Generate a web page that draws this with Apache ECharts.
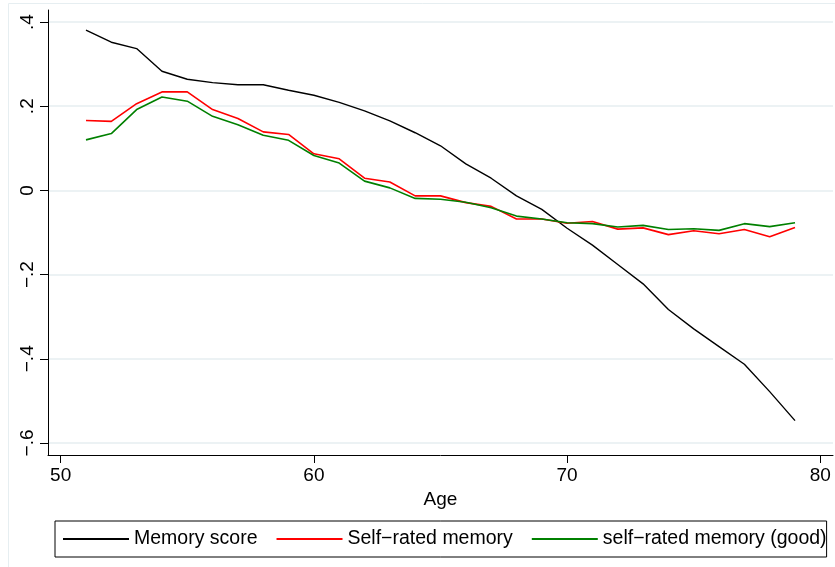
<!DOCTYPE html>
<html>
<head>
    <meta http-equiv="Content-Type" content="text/html; charset=UTF-8">
    <title>Memory by age</title>
    <script src="https://cdn.jsdelivr.net/npm/echarts@6/dist/echarts.min.js"></script>
</head>
<body style="margin:0; background:#fff;">
<div id="main" style="width:835px; height:567px;"></div>
<script type="text/javascript">
    // ages on the x axis
    var ages = [51, 52, 53, 54, 55, 56, 57, 58, 59, 60, 61, 62, 63, 64, 65,
                66, 67, 68, 69, 70, 71, 72, 73, 74, 75, 76, 77, 78, 79];
    // series values
    var memoryScore = [0.381, 0.352, 0.337, 0.283, 0.264, 0.256, 0.251, 0.251, 0.238, 0.226,
                       0.209, 0.189, 0.165, 0.137, 0.106, 0.063, 0.029, -0.013, -0.045, -0.090,
                       -0.130, -0.176, -0.222, -0.283, -0.329, -0.371, -0.413, -0.478, -0.547];
    var selfRated = [0.166, 0.164, 0.206, 0.234, 0.234, 0.192, 0.171, 0.139, 0.133, 0.087,
                     0.075, 0.029, 0.020, -0.013, -0.013, -0.029, -0.038, -0.068, -0.068, -0.078,
                     -0.074, -0.092, -0.089, -0.105, -0.096, -0.103, -0.093, -0.110, -0.088];
    var selfRatedGood = [0.120, 0.135, 0.192, 0.222, 0.212, 0.176, 0.156, 0.131, 0.119, 0.083,
                         0.065, 0.022, 0.006, -0.019, -0.021, -0.028, -0.041, -0.061, -0.068, -0.077,
                         -0.079, -0.087, -0.083, -0.093, -0.091, -0.095, -0.079, -0.086, -0.077];
    // tick labels
    var xTicks = [50, 60, 70, 80];
    var yTicks = [-0.6, -0.4, -0.2, 0, 0.2, 0.4];
    var yTickLabels = ['\u2212.6', '\u2212.4', '\u2212.2', '0', '.2', '.4'];
    var seriesNames = ['Memory score', 'Self\u2212rated memory', 'self\u2212rated memory (good)'];

    function pairs(ys) {
        return ages.map(function (a, i) { return [a, ys[i]]; });
    }
    function line(name, ys, color, width) {
        return {
            name: name,
            type: 'line',
            data: pairs(ys),
            symbol: 'none',
            lineStyle: {color: color, width: width},
            itemStyle: {color: color},
            animation: false
        };
    }

    var font = '"Liberation Sans", Arial, sans-serif';
    var myChart = echarts.init(document.getElementById('main'));
    var option = {
        backgroundColor: '#fff',
        textStyle: {fontFamily: font},
        graphic: [{
            type: 'rect',
            shape: {x: 8.5, y: 3.5, width: 900, height: 700},
            style: {fill: 'none', stroke: '#e6eef1', lineWidth: 1},
            silent: true
        }],
        grid: {left: 48, right: 2, top: 10, bottom: 112},
        xAxis: {
            type: 'value',
            min: 49.5,
            max: 80.5,
            name: 'Age',
            nameLocation: 'middle',
            nameGap: 29,
            nameTextStyle: {color: '#000', fontSize: 19, fontFamily: font},
            axisLine: {show: true, onZero: false, lineStyle: {color: '#000', width: 1}},
            axisTick: {show: true, length: 8, customValues: xTicks, lineStyle: {color: '#000'}},
            axisLabel: {customValues: xTicks, color: '#000', fontSize: 19, margin: 11, fontFamily: font},
            splitLine: {show: false}
        },
        yAxis: {
            type: 'value',
            min: -0.6286,
            max: 0.4286,
            axisLine: {show: true, onZero: false, lineStyle: {color: '#000', width: 1}},
            axisTick: {show: true, length: 8, customValues: yTicks, lineStyle: {color: '#000'}},
            axisLabel: {
                customValues: yTicks,
                rotate: 90,
                color: '#000',
                fontSize: 19,
                margin: 11,
                fontFamily: font,
                formatter: function (v) {
                    for (var i = 0; i < yTicks.length; i++) {
                        if (Math.abs(yTicks[i] - v) < 1e-9) return yTickLabels[i];
                    }
                    return '';
                }
            },
            splitLine: {show: true, lineStyle: {color: '#e6eef1', width: 1.5}}
        },
        legend: {
            data: seriesNames,
            left: 55,
            top: 521,
            width: 800,
            orient: 'horizontal',
            borderColor: '#000',
            borderWidth: 1,
            borderRadius: 0,
            padding: [8, 0, 8, 8],
            itemWidth: 66,
            itemHeight: 2,
            itemGap: 19,
            itemTextGap: 13,
            icon: 'rect',
            textStyle: {color: '#000', fontSize: 19.5, fontFamily: font}
        },
        series: [
            line(seriesNames[0], memoryScore, '#000000', 1.4),
            line(seriesNames[1], selfRated, '#ff0000', 1.6),
            line(seriesNames[2], selfRatedGood, '#008000', 1.6)
        ]
    };
    myChart.setOption(option);
</script>
</body>
</html>
